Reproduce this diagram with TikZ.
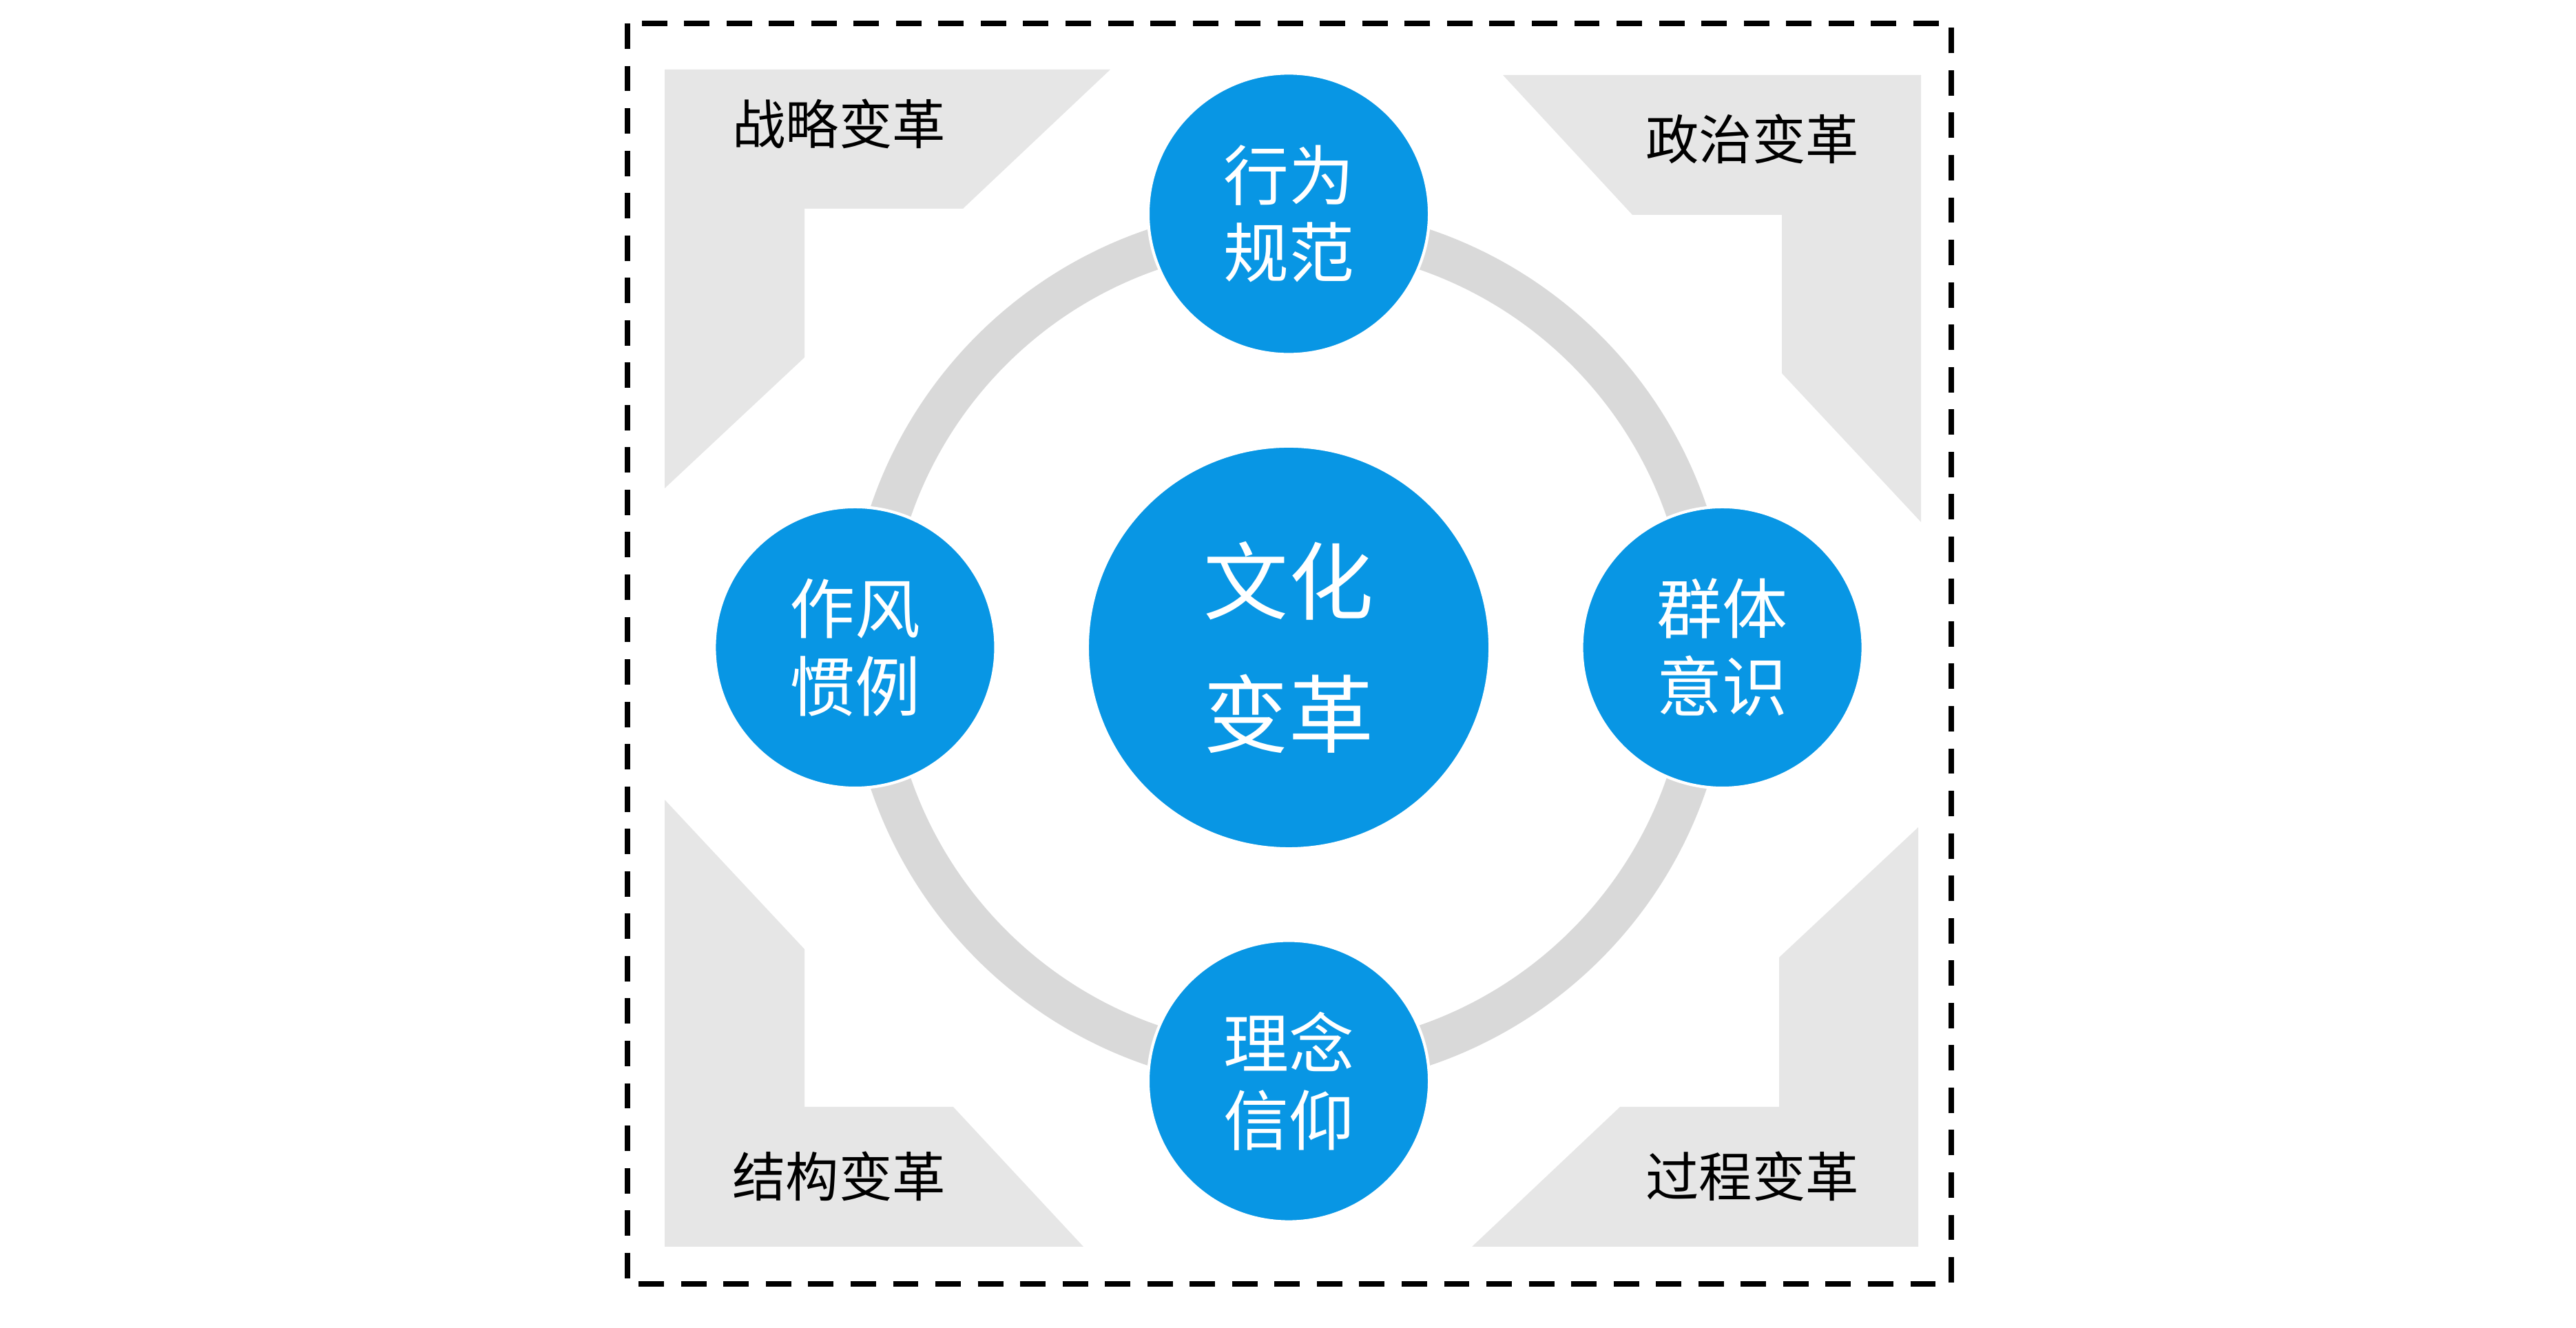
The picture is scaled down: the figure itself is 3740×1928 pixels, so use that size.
\documentclass[tikz,border=0pt]{standalone}
\usepackage{fontspec}
\setmainfont{Noto Sans CJK SC}
\usetikzlibrary{positioning}
\definecolor{cBlue}  {RGB}{8,150,228}
\definecolor{cRing}  {RGB}{217,217,217}
\definecolor{cCorner}{RGB}{230,230,230}

\begin{document}
\begin{tikzpicture}[
  x=0.01cm,y=0.01cm,
  hub/.style={circle,fill=cBlue,draw=white,line width=1.2pt,minimum size=5.84cm,
              inner sep=0pt,text=white,align=center,font=\fontsize{35}{55}\selectfont},
  sat/.style={circle,fill=cBlue,draw=white,line width=1.2pt,minimum size=4.08cm,
              inner sep=0pt,text=white,align=center,font=\fontsize{27}{32}\selectfont},
  corner/.style={fill=cCorner},
  tag/.style={font=\fontsize{22}{26}\selectfont},
  ring/.style={draw=cRing,line width=0.6cm},
  frame/.style={draw,line width=2.3pt,dash pattern=on 10.5pt off 7pt},
]
\useasboundingbox (0,0) rectangle (3740,1928);

% corner blocks
\fill[corner] (965,1827) -- (1612,1827) -- (1398,1625) -- (1168,1625) -- (1168,1409) -- (965,1219) -- cycle;
\fill[corner] (2182,1819) -- (2789,1819) -- (2789,1170) -- (2587,1386) -- (2587,1616) -- (2370,1616) -- cycle;
\fill[corner] (965,767) -- (1168,550) -- (1168,321) -- (1384,321) -- (1573,118) -- (965,118) -- cycle;
\fill[corner] (2785,727) -- (2583,538) -- (2583,321) -- (2352,321) -- (2137,118) -- (2785,118) -- cycle;

\node[tag] (strat) at (1218,1748) {战略变革};
\node[tag] (polit) at (2544,1726) {政治变革};
\node[tag] (struc) at (1218,220)  {结构变革};
\node[tag] (proc)  at (2544,220)  {过程变革};

% ring and circles
\coordinate (mid) at (1871,988);
\draw[ring] (mid) circle[radius=6.1cm];

\node[hub] (core) at (mid) {文化\\变革};
\node[sat,above=1.29cm of core] (norm)  {行为\\规范};
\node[sat,right=1.29cm of core] (group) {群体\\意识};
\node[sat,below=1.29cm of core] (faith) {理念\\信仰};
\node[sat,left=1.29cm of core]  (habit) {作风\\惯例};

\draw[frame] (911,1894) rectangle (2833,64);
\end{tikzpicture}
\end{document}
